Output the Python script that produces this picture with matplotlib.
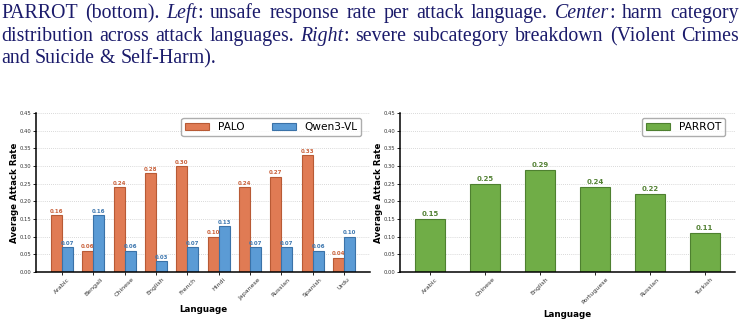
import matplotlib
matplotlib.use("Agg")
import matplotlib.pyplot as plt
import numpy as np

# ---------------- data ----------------
left_languages = ["Arabic", "Bengali", "Chinese", "English", "French",
                  "Hindi", "Japanese", "Russian", "Spanish", "Urdu"]
palo_values = [0.16, 0.06, 0.24, 0.28, 0.30, 0.10, 0.24, 0.27, 0.33, 0.04]
qwen_values = [0.07, 0.16, 0.06, 0.03, 0.07, 0.13, 0.07, 0.07, 0.06, 0.10]

right_languages = ["Arabic", "Chinese", "English", "Portuguese", "Russian", "Turkish"]
parrot_values = [0.15, 0.25, 0.29, 0.24, 0.22, 0.11]

y_ticks = [0.00, 0.05, 0.10, 0.15, 0.20, 0.25, 0.30, 0.35, 0.40, 0.45]

# caption: each line is a list of words; each word is a list of (piece, italic)
caption_lines = [
    [[("PARROT", False)], [("(bottom).", False)], [("Left", True), (":", False)],
     [("unsafe", False)], [("response", False)], [("rate", False)], [("per", False)],
     [("attack", False)], [("language.", False)], [("Center", True), (":", False)],
     [("harm", False)], [("category", False)]],
    [[("distribution", False)], [("across", False)], [("attack", False)],
     [("languages.", False)], [("Right", True), (":", False)], [("severe", False)],
     [("subcategory", False)], [("breakdown", False)], [("(Violent", False)],
     [("Crimes", False)]],
    [[("and", False)], [("Suicide", False)], [("&", False)], [("Self-Harm).", False)]],
]

# ---------------- style ----------------
C_PALO, E_PALO, T_PALO = "#E07B54", "#B85A35", "#C9623C"
C_QWEN, E_QWEN, T_QWEN = "#5B9BD5", "#3A72A8", "#3F78B0"
C_PAR, E_PAR, T_PAR = "#70AD47", "#4E8030", "#548235"

W, H, DPI = 744, 327, 100
fig = plt.figure(figsize=(W / DPI, H / DPI), dpi=DPI)
fig.patch.set_facecolor("white")


def style_axes(ax):
    for s in ["top", "right"]:
        ax.spines[s].set_visible(False)
    for s in ["left", "bottom"]:
        ax.spines[s].set_linewidth(1.1)
        ax.spines[s].set_color("black")
    ax.set_ylim(0, 0.45)
    ax.set_yticks(y_ticks)
    ax.set_yticklabels([f"{v:.2f}" for v in y_ticks], fontsize=3.8, color="#333333")
    ax.tick_params(axis="both", length=2, width=0.6, pad=1.5)
    ax.yaxis.grid(True, linestyle=(0, (1, 1.5)), color="#cccccc", linewidth=0.6)
    ax.set_axisbelow(True)
    ax.set_ylabel("Average Attack Rate", fontsize=6.2, fontweight="bold", labelpad=0.5)
    ax.set_xlabel("Language", fontsize=6.3, fontweight="bold", labelpad=3)


# ---------------- left panel ----------------
ax1 = fig.add_axes([36 / W, 1 - 272 / H, 334 / W, 159 / H])
x = np.arange(len(left_languages))
bw = 0.35
b1 = ax1.bar(x - bw / 2, palo_values, bw, color=C_PALO, edgecolor=E_PALO, linewidth=0.8, label="PALO")
b2 = ax1.bar(x + bw / 2, qwen_values, bw, color=C_QWEN, edgecolor=E_QWEN, linewidth=0.8, label="Qwen3-VL")
for rect, v in zip(b1, palo_values):
    ax1.text(rect.get_x() + rect.get_width() / 2, v + 0.004, f"{v:.2f}", ha="center", va="bottom",
             fontsize=4.0, fontweight="bold", color=T_PALO)
for rect, v in zip(b2, qwen_values):
    ax1.text(rect.get_x() + rect.get_width() / 2, v + 0.004, f"{v:.2f}", ha="center", va="bottom",
             fontsize=4.0, fontweight="bold", color=T_QWEN)
ax1.set_xticks(x)
ax1.set_xticklabels(left_languages, rotation=45, fontsize=4.5, color="#333333")
style_axes(ax1)
ax1.legend(loc="upper right", ncol=2, fontsize=7.6, frameon=True, fancybox=True,
           edgecolor="#999999", borderpad=0.35, columnspacing=2.6, handlelength=2.3,
           bbox_to_anchor=(0.99, 1.0))

# ---------------- right panel ----------------
ax2 = fig.add_axes([400 / W, 1 - 272 / H, 335 / W, 159 / H])
x2 = np.arange(len(right_languages))
b3 = ax2.bar(x2, parrot_values, 0.55, color=C_PAR, edgecolor=E_PAR, linewidth=0.8, label="PARROT")
for rect, v in zip(b3, parrot_values):
    ax2.text(rect.get_x() + rect.get_width() / 2, v + 0.005, f"{v:.2f}", ha="center", va="bottom",
             fontsize=5, fontweight="bold", color=T_PAR)
ax2.set_xticks(x2)
ax2.set_xticklabels(right_languages, rotation=45, fontsize=4.5, color="#333333")
style_axes(ax2)
ax2.legend(loc="upper right", fontsize=7.6, frameon=True, fancybox=True,
           edgecolor="#999999", borderpad=0.35, handlelength=2.3,
           bbox_to_anchor=(0.985, 1.0))

# ---------------- caption (justified, mixed italic) ----------------
CAP_COLOR = "#1b1b6b"
CAP_SIZE = 14.3
CAP_FAMILY = "Liberation Serif"
x_left, x_right = 1, 739
baselines = [18, 41, 63]
renderer = fig.canvas.get_renderer()


def measure(t, it):
    tt = fig.text(0, 0, t, fontsize=CAP_SIZE, family=CAP_FAMILY,
                  style="italic" if it else "normal")
    w = tt.get_window_extent(renderer).width
    tt.remove()
    return w


space_w = measure("a a", False) - measure("aa", False)

for li, words in enumerate(caption_lines):
    widths = [[measure(t, it) for t, it in wd] for wd in words]
    total = sum(sum(w) for w in widths)
    justify = li < len(caption_lines) - 1
    if justify and len(words) > 1:
        gap = (x_right - x_left - total) / (len(words) - 1)
    else:
        gap = space_w
    cx = x_left
    yb = 1 - baselines[li] / H
    for wd, ws in zip(words, widths):
        for (t, it), w in zip(wd, ws):
            fig.text(cx / W, yb, t, fontsize=CAP_SIZE, family=CAP_FAMILY,
                     style="italic" if it else "normal", color=CAP_COLOR,
                     ha="left", va="baseline")
            cx += w
        cx += gap

fig.savefig("out.png", dpi=DPI, facecolor="white")
